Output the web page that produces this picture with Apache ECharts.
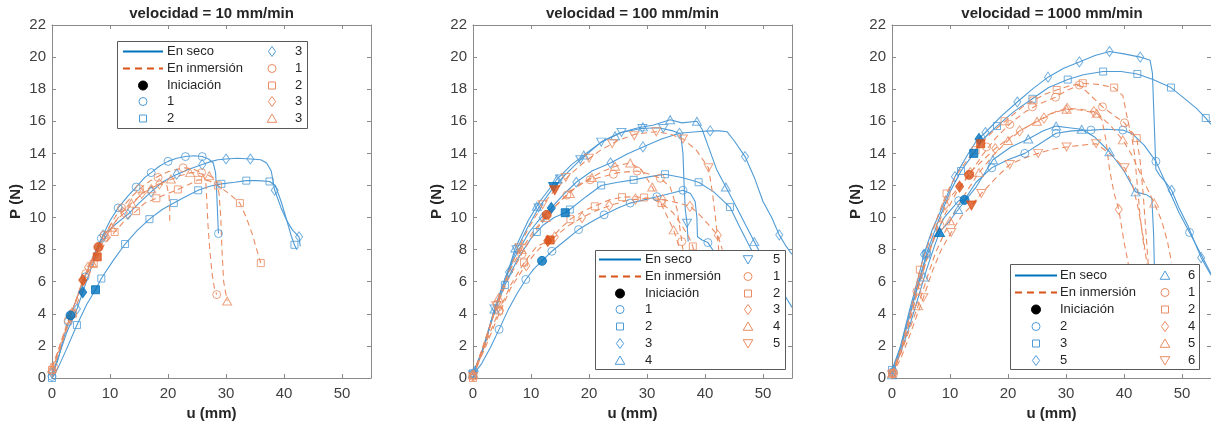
<!DOCTYPE html>
<html><head><meta charset="utf-8">
<script src="https://cdn.jsdelivr.net/npm/echarts@6/dist/echarts.min.js"></script>
<style>html,body{margin:0;padding:0;background:#fff}#c{width:1211px;height:428px}</style>
</head><body><div id="c"></div>
<script>
// ---------- tick labels / titles ----------
const xTicks = [0, 10, 20, 30, 40, 50];
const yTicks = [0, 2, 4, 6, 8, 10, 12, 14, 16, 18, 20, 22];
const titles = ['velocidad = 10 mm/min', 'velocidad = 100 mm/min', 'velocidad = 1000 mm/min'];

// ---------- velocidad = 10 mm/min ----------
const v10_dry1 = [[0,0.1],[1,1.1],[2,2.5],[3.2,3.9],[4.5,5.2],[5.7,6.3],[7,7.5],[8.5,8.7],[10,9.8],[11.4,10.6],[13,11.3],[14.5,11.9],[16,12.5],[17.1,12.8],[18.5,13.2],[20,13.5],[21.5,13.7],[23,13.8],[24.5,13.85],[25.9,13.8],[27,13.65],[27.8,13.4],[28.2,12.8],[28.4,11.5],[28.6,9.8],[28.7,9.0]];
const v10_dry1Mk = [[0,0.1],[2.8,3.5],[5.7,6.3],[8.5,8.7],[11.4,10.6],[14.5,11.9],[17.1,12.8],[20,13.5],[23,13.8],[25.9,13.8],[28.7,9.0]];
const v10_dry1Init = [3.2,3.9];
const v10_dry2 = [[0,0],[1,0.6],[2.5,1.8],[4.3,3.3],[6,4.6],[7.5,5.5],[8.5,6.2],[10.5,7.3],[12.6,8.35],[14.7,9.2],[16.8,9.9],[19,10.5],[21,10.9],[23,11.3],[25.2,11.7],[27.2,11.95],[29.2,12.1],[31.5,12.2],[33.5,12.3],[35.5,12.3],[37.5,12.25],[38.5,12.0],[39.5,11.0],[40.5,9.8],[41.3,8.8],[41.8,8.3],[42.2,8.0]];
const v10_dry2Mk = [[0,0],[4.3,3.3],[8.5,6.2],[12.6,8.35],[16.8,9.9],[21,10.9],[25.2,11.7],[29.2,12.1],[33.5,12.3],[37.5,12.25],[41.8,8.3]];
const v10_dry2Init = [7.5,5.5];
const v10_dry3 = [[0,0.3],[1,1.2],[2.5,2.8],[4.3,4.3],[5.3,5.35],[6.5,6.6],[7.7,7.8],[8.8,8.9],[11,9.6],[13.1,10.2],[15,10.9],[17.1,11.6],[19,12.2],[21,12.6],[23.5,13.0],[25.9,13.3],[27.5,13.5],[28.6,13.6],[30,13.65],[32,13.7],[34.2,13.65],[36,13.6],[37,13.4],[37.8,12.9],[38.4,11.7],[39.5,10.6],[40.5,9.8],[41.5,9.2],[42.6,8.8],[42.8,8.2]];
const v10_dry3Mk = [[0,0.3],[4.3,4.3],[8.8,8.9],[13.1,10.2],[17.1,11.6],[21.5,12.7],[25.9,13.3],[30,13.65],[34.2,13.65],[38.4,11.7],[42.6,8.8]];
const v10_dry3Init = [5.3,5.35];
const v10_wet1 = [[0,0.7],[1,1.6],[2.8,3.6],[4,4.7],[5.3,6.1],[6.5,7.0],[8,8.16],[9.5,9.2],[11,10.1],[12.5,10.8],[14,11.4],[15.5,11.9],[17,12.3],[18.5,12.6],[20,12.85],[21.5,13.0],[23,13.1],[24.5,13.0],[25.8,12.8],[26.5,12.3],[26.7,11],[26.9,9.5],[27.2,8],[27.6,6.5],[28.0,5.6],[28.4,5.2]];
const v10_wet1Mk = [[0.3,0.7],[2.8,3.6],[5.8,6.5],[9,8.9],[12,10.6],[15.1,11.8],[18.3,12.5],[22.6,13.1],[25.8,12.8],[28.4,5.2]];
const v10_wet1Init = [8,8.16];
const v10_wet2 = [[0,0.5],[1,1.4],[2.5,3.0],[4,4.3],[5.5,5.8],[7,6.9],[7.8,7.55],[9,8.3],[10.8,9.1],[12.5,9.8],[14.5,10.4],[16,10.9],[18,11.2],[20,11.5],[21.7,11.75],[23.5,12.05],[25.2,12.35],[27,12.3],[28.6,12.0],[30.5,11.5],[32.4,10.9],[33.5,10.0],[34.5,9.0],[35.3,8.0],[36,7.16]];
const v10_wet2Mk = [[0,0.5],[3.6,4.0],[7.2,7.1],[10.8,9.1],[14.5,10.4],[18,11.2],[21.7,11.75],[25.2,12.35],[28.6,12.0],[32.4,10.9],[36,7.16]];
const v10_wet2Init = [7.8,7.55];
const v10_wet3 = [[0,0.4],[1.5,2.0],[3,3.7],[4.5,5.2],[5.3,6.1],[6.5,7.1],[8,8.2],[9.3,8.8],[11,9.8],[12.5,10.3],[14,10.9],[15.5,11.5],[17,11.9],[18.5,12.1],[19.8,12.0],[20.2,11.3],[20.3,10.5],[20.3,9.8]];
const v10_wet3Mk = [[0,0.4],[3.1,3.8],[6.2,6.9],[9.3,8.8],[12.4,10.3],[15.5,11.5],[18.5,12.1]];
const v10_wet3Init = [5.3,6.1];
const v10_wet4 = [[0,0.6],[1.5,2.2],[3,3.8],[4.5,5.1],[6,6.5],[7.5,7.6],[9,8.6],[10.5,9.5],[12,10.3],[14,11.0],[16,11.6],[18,12.0],[20,12.3],[22,12.6],[24,12.8],[25.5,12.75],[27.1,12.6],[28.3,12.4],[28.8,11.5],[29.1,10],[29.3,8],[29.6,6],[30.2,4.8]];
const v10_wet4Mk = [[0,0.6],[3.4,4.1],[6.9,7.2],[10.3,9.4],[13.7,10.9],[17.1,11.8],[20.5,12.4],[23.8,12.8],[27.1,12.6],[30.2,4.8]];
const v10Labels = ['En seco','En inmersión','Iniciación','1','2','3','1','2','3','3'];

// ---------- velocidad = 100 mm/min ----------
const v100_dry1 = [[0,0.2],[1.5,0.9],[3,1.9],[4.5,3.03],[6,4.2],[7.5,5.2],[9.1,6.14],[10.5,6.8],[11.9,7.3],[13.6,7.9],[16,8.6],[18.2,9.25],[20.5,9.75],[22.6,10.17],[25,10.6],[27.1,10.9],[29.5,11.1],[31.7,11.3],[34,11.5],[36.2,11.7],[37.5,11.5],[38.3,11.0],[38.6,10],[38.7,8.8],[39.5,8.6],[40.5,8.44],[41.5,7.9],[42.3,7.3]];
const v100_dry1Mk = [[0,0.2],[4.5,3.03],[9.1,6.14],[13.6,7.9],[18.2,9.25],[22.6,10.17],[27.1,10.9],[31.7,11.3],[36.2,11.7],[40.5,8.44]];
const v100_dry1Init = [11.9,7.3];
const v100_dry2 = [[0,0.3],[1.5,1.5],[3,3.3],[4.5,4.9],[6,6.2],[8,7.6],[10,8.7],[12,9.5],[14,10.0],[15.9,10.3],[16.7,10.5],[19.5,11.3],[22.1,12.0],[25,12.2],[27.7,12.35],[30.5,12.55],[33.1,12.7],[36,12.5],[38.9,12.2],[41.5,11.6],[44.3,10.65],[46,9.4],[47.7,8.2],[49.5,7]];
const v100_dry2Mk = [[0,0.3],[5.5,5.8],[11,9.1],[16.7,10.5],[22.1,12.0],[27.7,12.35],[33.1,12.7],[38.9,12.2],[44.3,10.65]];
const v100_dry2Init = [15.9,10.3];
const v100_dry3 = [[0,0.3],[1.5,1.6],[3,3.4],[5,5.6],[7,7.4],[9.7,9.1],[11.5,9.9],[13.5,10.6],[15.5,11.4],[17.8,12.2],[20.5,12.9],[23.7,13.4],[26.5,13.95],[29.3,14.4],[32.5,14.9],[35.6,15.25],[38.5,15.35],[40.9,15.4],[42.5,15.4],[43.8,15.35],[45,14.8],[46.9,13.8],[48.5,12.5],[50,11],[51.5,10],[52.8,8.92],[54,8.2],[55,7.7]];
const v100_dry3Mk = [[0.3,0.4],[6.2,6.6],[12,10.0],[17.8,12.2],[23.7,13.4],[29.3,14.4],[35.6,15.25],[40.9,15.4],[46.9,13.8],[52.8,8.92]];
const v100_dry3Init = [13.5,10.6];
const v100_dry4 = [[0,0.3],[2,2],[3.7,4.3],[5.5,6],[7.3,8.1],[9.5,9.8],[11.5,11.0],[14.5,12.4],[17,13.3],[19.5,14.0],[22.5,14.8],[25.5,15.3],[28.5,15.6],[31,15.75],[34,16.1],[36,15.9],[38.6,16.0],[39.5,15.5],[40.5,14.5],[42,13],[43.6,11.9],[45.5,10.6],[47.5,9.2],[49.5,7.8],[51.5,6.5],[53.5,5.3],[55,4.4]];
const v100_dry4Mk = [[0,0.3],[3.7,4.3],[7.3,8.1],[11,10.7],[14.5,12.4],[19.1,13.9],[24.5,15.1],[29.3,15.65],[34,16.1],[38.6,16.0],[43.6,11.9],[48.5,8.5]];
const v100_dry5 = [[0,0.2],[2,2.1],[3.7,4.3],[5.5,6.2],[7.5,8],[9.3,9.3],[11.3,10.6],[13.9,11.9],[16,12.7],[18.5,13.6],[22.1,14.7],[25.6,15.3],[29,15.55],[32,15.6],[34.5,15.4],[35.8,15.2],[36.2,14],[36.4,12],[36.6,10.5],[36.9,9.65],[37.1,8.5]];
const v100_dry5Mk = [[0,0.2],[3.7,4.3],[7.5,8.0],[11.3,10.6],[15,12.4],[18.5,13.6],[22.1,14.7],[25.6,15.3],[29.2,15.55],[32.8,15.55],[36.9,9.65]];
const v100_dry5Init = [13.9,11.9];
const v100_wet1 = [[0,0.1],[2,2.3],[4,4.4],[6,6.1],[8.5,7.8],[10.5,9.0],[12.7,10.17],[15,11.0],[17,11.7],[18.8,12.2],[20.2,12.35],[23,12.6],[25,12.8],[28.3,12.9],[30,12.75],[32.3,12.45],[34,11.9],[35.2,10.5],[35.8,9],[36.2,8]];
const v100_wet1Mk = [[0,0.1],[4.2,4.6],[8.4,7.7],[16.2,11.4],[20.2,12.35],[24.2,12.7],[28.3,12.9],[32.3,12.45],[36,8.5]];
const v100_wet1Init = [12.7,10.17];
const v100_wet2 = [[0,0],[2,2],[4.5,4.2],[6.5,5.8],[9,7.3],[11,8.2],[13.3,8.6],[15,9.3],[16.8,9.9],[19,10.4],[21.5,10.8],[23.5,11.1],[25.7,11.27],[28,11.3],[30.5,11.2],[32.5,10.9],[34.5,10.3],[36,9.5],[37.2,8.8],[37.9,8.2],[38.3,7.6]];
const v100_wet2Mk = [[0,0],[4.5,4.2],[8.8,7.2],[16.8,9.9],[21,10.7],[25.7,11.27],[29.5,11.25],[32.5,10.9],[37.9,8.2]];
const v100_wet2Init = [13.3,8.6];
const v100_wet3 = [[0,0.2],[2,1.8],[4.5,4.0],[6.5,5.6],[9,7.0],[11,7.9],[12.9,8.55],[14.1,8.8],[16.5,9.5],[18.8,10.0],[21,10.4],[24,10.8],[27,11.1],[30,11.2],[33,11.1],[35.5,10.9],[37.4,10.7],[39,10.2],[40.5,9.6],[42.2,8.9],[43,8.0]];
const v100_wet3Mk = [[0,0.2],[4.7,4.2],[9.2,7.0],[14.1,8.8],[18.8,10.0],[23.5,10.75],[28,11.15],[32.7,11.1],[37.4,10.7],[42.2,8.9]];
const v100_wet3Init = [12.9,8.55];
const v100_wet4 = [[0,0.2],[2,2.2],[4.4,5.0],[6.5,6.8],[8.2,7.9],[10.5,9.2],[12.7,10.1],[15,11.0],[17.5,11.8],[20,12.4],[22.5,12.9],[25,13.25],[27.1,13.4],[29,13],[30.9,11.9],[32.5,10.8],[34.6,9.23],[35.5,8.2],[36,7.5]];
const v100_wet4Mk = [[0,0.2],[4.4,5.0],[8.4,8.0],[12.5,10.0],[16.7,11.5],[20.5,12.5],[24.5,13.2],[27.1,13.4],[30.9,11.9],[34.6,9.23]];
const v100_wet5 = [[0,0.1],[2,2],[4,4.5],[5.5,6],[7.5,7.8],[9.5,9.3],[12,10.8],[14.1,11.7],[16.5,12.6],[19,13.4],[22,14.2],[25,14.8],[28,15.2],[31.6,15.35],[34,15.2],[36.2,14.9],[38.5,14.2],[40.6,13.1],[41.3,11.5],[41.8,10],[42.2,8.6],[42.5,7.5]];
const v100_wet5Mk = [[0,0.1],[4,4.5],[8,8.1],[12,10.8],[16,12.5],[20,13.7],[24,14.6],[27.8,15.1],[31.6,15.35],[36.2,14.9],[40.6,13.1]];
const v100_wet5Init = [14.1,11.7];
const v100Labels = ['En seco','En inmersión','Iniciación','1','2','3','4','5','1','2','3','4','5'];

// ---------- velocidad = 1000 mm/min ----------
const v1000_dry2 = [[0,0.4],[1.5,1.8],[3,3.8],[4.5,5.8],[6,7.6],[7.5,8.9],[9,10],[11.5,11.05],[12.5,11.1],[14.5,12.2],[17.2,13.1],[20,13.6],[22.9,14.0],[25.5,14.6],[28.3,15.25],[31,15.4],[34.3,15.45],[37,15.5],[39.8,15.45],[41.5,15.2],[43.5,14.5],[45.5,13.5],[47.5,11.9],[49.5,10.3],[51.3,9.07],[53,7.9],[55,6.5]];
const v1000_dry2Mk = [[0.2,0.4],[6,7.8],[11.5,11.05],[17.2,13.1],[22.9,14.0],[28.3,15.25],[34.3,15.45],[39.8,15.45],[45.5,13.5],[51.3,9.07]];
const v1000_dry2Init = [12.5,11.1];
const v1000_dry3 = [[0,0.5],[1.5,2],[3,4],[4.5,5.9],[6,7.8],[8,9.8],[10,11.6],[11.9,12.9],[14.1,14.0],[16,15],[18.1,15.7],[21,16.6],[24.2,17.4],[27,18.1],[30.3,18.6],[33,18.9],[36.4,19.1],[39.5,19.1],[42.3,18.95],[45,18.6],[48.1,18.1],[50.5,17.4],[52.5,16.8],[54.1,16.2],[55,15.8]];
const v1000_dry3Mk = [[0,0.5],[5.9,7.7],[11.9,12.9],[18.1,15.7],[24.2,17.4],[30.3,18.6],[36.4,19.1],[42.3,18.95],[48.1,18.1],[54.1,16.2]];
const v1000_dry3Init = [14.1,14.0];
const v1000_dry5 = [[0,0.3],[1.5,2],[3,4.2],[4.5,6.2],[5.5,7.7],[7,9.3],[8.5,10.5],[10.85,12.55],[13,13.9],[14.6,14.8],[16.1,15.3],[18.8,16.3],[21.6,17.2],[24.2,18.0],[26.9,18.75],[29.6,19.3],[32.3,19.7],[35,20.1],[37.5,20.35],[40,20.2],[42.8,20.0],[44.5,19.8],[44.9,19.0],[45.2,16],[45.5,13],[46.2,12.6],[47.2,12.2],[48.2,11.7],[49.5,10.6],[51,9.5],[53.3,7.5],[55,6.4]];
const v1000_dry5Mk = [[0,0.3],[5.5,7.7],[10.85,12.55],[16.1,15.3],[21.6,17.2],[26.9,18.75],[32.3,19.7],[37.5,20.35],[42.8,20.0],[48.2,11.7],[53.3,7.5]];
const v1000_dry5Init = [15,14.9];
const v1000_dry6 = [[0,0.2],[1.5,1.6],[3,3.2],[4.5,5.0],[6,6.8],[7.3,8.2],[8.2,9.1],[9.5,9.6],[11,10.3],[12.5,11],[14.5,11.9],[17.4,13.6],[20.5,14.4],[23.5,14.9],[26,15.4],[28.3,15.7],[30.5,15.6],[32.7,15.5],[35,15.0],[37.5,14.1],[40,12.9],[42,11.6],[44,11.4],[44.8,11.2],[45.1,9],[45.3,6],[45.5,3.5]];
const v1000_dry6Mk = [[0,0.2],[5.5,6.3],[11.4,10.5],[17.4,13.6],[23.5,14.9],[28.3,15.7],[32.7,15.5],[37.5,14.1],[42,11.6]];
const v1000_dry6Init = [8.2,9.1];
const v1000_wet1 = [[0,0.1],[1.5,1.6],[3,3.5],[4.5,5.6],[6,7.4],[7.5,8.9],[9,10.1],[11,11.5],[13.3,12.66],[15.6,13.9],[18,15.0],[20.5,15.9],[23,16.6],[25.5,17.1],[28.2,17.5],[30,17.9],[32.3,18.26],[34,17.7],[36.3,16.9],[38.5,16.3],[40.1,15.9],[41.2,15.3],[41.8,14],[42.3,12],[42.8,10],[43.5,8]];
const v1000_wet1Mk = [[0.3,0.3],[4.3,5.4],[8.3,9.5],[16.3,14.4],[20.3,15.8],[24.2,16.9],[28.2,17.5],[32.3,18.26],[36.3,16.9],[40.1,15.9]];
const v1000_wet1Init = [13.3,12.66];
const v1000_wet2 = [[0,0.3],[1.5,1.8],[3,3.8],[4.8,6.75],[6.5,8.6],[8,10.2],[9.4,11.5],[11,12.6],[13,13.6],[15,14.5],[17.5,15.4],[20.5,16.3],[22.5,16.9],[24.4,17.3],[26.5,17.7],[28.4,17.95],[30.5,18.2],[32.9,18.37],[35.5,18.3],[38.3,18.1],[39.8,17.6],[40.4,16.5],[41,15.5],[42.2,14.95],[42.8,13.5],[43.3,11.5],[43.7,9.5],[44.2,7]];
const v1000_wet2Mk = [[0,0.3],[4.8,6.75],[9.4,11.5],[14.4,14.2],[19.4,16.0],[24.4,17.3],[28.4,17.95],[32.9,18.37],[38.3,18.1],[42.2,14.95]];
const v1000_wet2Init = [15.3,14.6];
const v1000_wet4 = [[0,0.2],[1.5,1.6],[3,3.4],[4.8,6.0],[6.5,8.0],[8,9.6],[9.65,11.1],[11.65,11.93],[14,13.0],[17.8,14.3],[20,14.9],[22,15.4],[24,15.8],[26.2,16.2],[28.2,16.6],[30.2,16.8],[32.5,16.75],[34.8,16.6],[36.2,16.1],[36.9,14.8],[37.5,13],[38.3,11.5],[39.1,10.5],[40,8.5],[40.8,7]];
const v1000_wet4Mk = [[0.3,0.3],[4.9,6.1],[9.2,10.8],[13.5,12.8],[17.8,14.3],[22,15.4],[26.2,16.2],[30.2,16.8],[34.8,16.6],[39.1,10.5]];
const v1000_wet4Init = [11.65,11.93];
const v1000_wet5 = [[0,0.3],[1.5,1.5],[3,3.0],[4.5,4.5],[6,6.2],[7.5,7.8],[9,9.0],[11,10.5],[13,11.7],[15,12.8],[17.5,13.9],[20,14.8],[22.5,15.5],[25,16.0],[27.5,16.5],[30.1,16.75],[32.5,16.7],[35.3,16.5],[37.5,15.8],[39.8,14.84],[41.5,13.8],[43.5,12.2],[45.2,10.9],[46.5,9.8],[47.5,8.5],[48.2,7.2]];
const v1000_wet5Mk = [[0,0.3],[4.5,4.5],[10,9.8],[15,12.8],[20,14.8],[25,16.0],[30.1,16.75],[35.3,16.5],[39.8,14.84],[45.2,10.9]];
const v1000_wet6 = [[0,0.2],[1.5,1.2],[3,2.6],[4.5,4.1],[5.4,5.0],[7,6.7],[8.5,8.0],[10.2,9.07],[12,10.1],[13.7,10.75],[15.4,11.5],[18,12.5],[20.3,13.3],[22.7,13.7],[25.2,14.0],[27.6,14.25],[30.1,14.4],[32.5,14.5],[35.2,14.6],[37.5,14.0],[40.1,13.1],[41.5,12],[42.5,10.5],[43.3,8.8],[44,7],[44.3,6.5]];
const v1000_wet6Mk = [[0,0.2],[5.4,5.0],[10.2,9.07],[15.4,11.5],[20.3,13.3],[25.2,14.0],[30.1,14.4],[35.2,14.6],[40.1,13.1]];
const v1000_wet6Init = [13.7,10.75];
const v1000Labels = ['En seco','En inmersión','Iniciación','2','3','5','6','1','2','4','5','6'];

// ---------- styling & layout (not data) ----------
const FONT = "'Liberation Sans', Arial, Helvetica, sans-serif";
const DRY = '#4f9bd6', WET = '#ea8c62', DRY_D = '#0072BD', WET_D = '#D95319';
const FRAME = '#8a8a8a', TXT = '#404040';
const SYM = {circle:'circle', square:'rect', diamond:'diamond', tri:'triangle', down:'path://M0,0L10,0L5,9Z'};
const SZ = {circle:8, square:7, diamond:[7,10], tri:[9,8], down:[9,8]};
const SZI = {circle:9, square:8, diamond:[8,11], tri:[10,9], down:[10,9]};

const panels = [
  { grid:{left:52, top:25, width:319, height:353}, title:titles[0], labels:v10Labels,
    curves:[
      {kind:'dry', shape:'circle', line:v10_dry1, mk:v10_dry1Mk, init:v10_dry1Init},
      {kind:'dry', shape:'square', line:v10_dry2, mk:v10_dry2Mk, init:v10_dry2Init},
      {kind:'dry', shape:'diamond', line:v10_dry3, mk:v10_dry3Mk, init:v10_dry3Init},
      {kind:'wet', shape:'circle', line:v10_wet1, mk:v10_wet1Mk, init:v10_wet1Init},
      {kind:'wet', shape:'square', line:v10_wet2, mk:v10_wet2Mk, init:v10_wet2Init},
      {kind:'wet', shape:'diamond', line:v10_wet3, mk:v10_wet3Mk, init:v10_wet3Init},
      {kind:'wet', shape:'tri', line:v10_wet4, mk:v10_wet4Mk}],
    leftItems:[['line','dry'],['line','wet'],['init','circle'],['dry','circle'],['dry','square']],
    rightItems:[['dry','diamond'],['wet','circle'],['wet','square'],['wet','diamond'],['wet','tri']],
    L:{x:117, y:41, w:190, h:87, lx1:123, lx2:163, tx:167, mx2:272, tx2:295, row0:51, dy:16.8}
  },
  { grid:{left:473, top:25, width:319, height:353}, title:titles[1], labels:v100Labels,
    curves:[
      {kind:'dry', shape:'circle', line:v100_dry1, mk:v100_dry1Mk, init:v100_dry1Init},
      {kind:'dry', shape:'square', line:v100_dry2, mk:v100_dry2Mk, init:v100_dry2Init},
      {kind:'dry', shape:'diamond', line:v100_dry3, mk:v100_dry3Mk, init:v100_dry3Init},
      {kind:'dry', shape:'tri', line:v100_dry4, mk:v100_dry4Mk},
      {kind:'dry', shape:'down', line:v100_dry5, mk:v100_dry5Mk, init:v100_dry5Init},
      {kind:'wet', shape:'circle', line:v100_wet1, mk:v100_wet1Mk, init:v100_wet1Init},
      {kind:'wet', shape:'square', line:v100_wet2, mk:v100_wet2Mk, init:v100_wet2Init},
      {kind:'wet', shape:'diamond', line:v100_wet3, mk:v100_wet3Mk, init:v100_wet3Init},
      {kind:'wet', shape:'tri', line:v100_wet4, mk:v100_wet4Mk},
      {kind:'wet', shape:'down', line:v100_wet5, mk:v100_wet5Mk, init:v100_wet5Init}],
    leftItems:[['line','dry'],['line','wet'],['init','circle'],['dry','circle'],['dry','square'],['dry','diamond'],['dry','tri']],
    rightItems:[['dry','down'],['wet','circle'],['wet','square'],['wet','diamond'],['wet','tri'],['wet','down']],
    L:{x:595, y:250, w:190, h:119, lx1:599, lx2:641, tx:645, mx2:748, tx2:773, row0:259, dy:16.8}
  },
  { grid:{left:892, top:25, width:320, height:353}, title:titles[2], labels:v1000Labels,
    curves:[
      {kind:'dry', shape:'circle', line:v1000_dry2, mk:v1000_dry2Mk, init:v1000_dry2Init},
      {kind:'dry', shape:'square', line:v1000_dry3, mk:v1000_dry3Mk, init:v1000_dry3Init},
      {kind:'dry', shape:'diamond', line:v1000_dry5, mk:v1000_dry5Mk, init:v1000_dry5Init},
      {kind:'dry', shape:'tri', line:v1000_dry6, mk:v1000_dry6Mk, init:v1000_dry6Init},
      {kind:'wet', shape:'circle', line:v1000_wet1, mk:v1000_wet1Mk, init:v1000_wet1Init},
      {kind:'wet', shape:'square', line:v1000_wet2, mk:v1000_wet2Mk, init:v1000_wet2Init},
      {kind:'wet', shape:'diamond', line:v1000_wet4, mk:v1000_wet4Mk, init:v1000_wet4Init},
      {kind:'wet', shape:'tri', line:v1000_wet5, mk:v1000_wet5Mk},
      {kind:'wet', shape:'down', line:v1000_wet6, mk:v1000_wet6Mk, init:v1000_wet6Init}],
    leftItems:[['line','dry'],['line','wet'],['init','circle'],['dry','circle'],['dry','square'],['dry','diamond']],
    rightItems:[['dry','tri'],['wet','circle'],['wet','square'],['wet','diamond'],['wet','tri'],['wet','down']],
    L:{x:1010, y:264, w:189, h:105, lx1:1015, lx2:1057, tx:1060, mx2:1165, tx2:1188, row0:275, dy:16.9}
  }
];

function symbolEl(shape, cx, cy, color, filled) {
  const style = {fill: filled ? color : 'none', stroke: color, lineWidth: 1};
  if (shape === 'circle') return {type:'circle', shape:{cx, cy, r: filled ? 4.5 : 4}, style};
  if (shape === 'square') return {type:'rect', shape:{x:cx-3.5, y:cy-3.5, width:7, height:7}, style};
  if (shape === 'diamond') return {type:'polygon', shape:{points:[[cx,cy-5],[cx+3.6,cy],[cx,cy+5],[cx-3.6,cy]]}, style};
  if (shape === 'tri') return {type:'polygon', shape:{points:[[cx,cy-4.5],[cx+4.8,cy+3.8],[cx-4.8,cy+3.8]]}, style};
  return {type:'polygon', shape:{points:[[cx-4.8,cy-3.8],[cx+4.8,cy-3.8],[cx,cy+4.5]]}, style};
}

function legendEls(p) {
  const L = p.L;
  const els = [{type:'rect', shape:{x:L.x+0.5, y:L.y+0.5, width:L.w, height:L.h},
    style:{fill:'#fff', stroke:'#595959', lineWidth:1}}];
  const items = p.leftItems.concat(p.rightItems);
  items.forEach((it, k) => {
    const left = k < p.leftItems.length;
    const row = left ? k : k - p.leftItems.length;
    const y = Math.round(L.row0 + row * L.dy) + 0.5;
    const mx = left ? (L.lx1 + L.lx2) / 2 : L.mx2;
    const tx = left ? L.tx : L.tx2;
    if (it[0] === 'line') {
      els.push({type:'line', shape:{x1:L.lx1, y1:y, x2:L.lx2, y2:y},
        style:{stroke: it[1] === 'dry' ? DRY_D : WET_D, lineWidth:2, lineDash: it[1] === 'dry' ? null : [7,5]}});
    } else if (it[0] === 'init') {
      els.push({type:'circle', shape:{cx:mx, cy:y, r:4.5}, style:{fill:'#000', stroke:'#000', lineWidth:1}});
    } else {
      els.push(symbolEl(it[1], mx, y, it[0] === 'dry' ? DRY : WET, false));
    }
    els.push({type:'text', x:tx, y:y, style:{text:p.labels[k], fill:'#262626', fontSize:13,
      fontFamily:FONT, align:'left', verticalAlign:'middle'}});
  });
  els.forEach(e => { e.z = 100; e.silent = true; });
  return els;
}

const grid = [], xAxis = [], yAxis = [], series = [], title = [], graphic = [];

panels.forEach((p, i) => {
  grid.push(Object.assign({containLabel:false}, p.grid));
  const base = {type:'value', gridIndex:i, splitLine:{show:false},
    axisLine:{show:true, onZero:false, lineStyle:{color:FRAME, width:1}},
    axisTick:{show:true, inside:true, length:4, lineStyle:{color:FRAME}}};
  xAxis.push(Object.assign({}, base, {position:'bottom', min:0, max:55, interval:10,
    axisTick:Object.assign({}, base.axisTick, {customValues:xTicks}),
    axisLabel:{color:TXT, fontSize:15, fontFamily:FONT, margin:8, customValues:xTicks,
      formatter:v => (v % 10 === 0 ? String(v) : '')},
    name:'u (mm)', nameLocation:'middle', nameGap:27,
    nameTextStyle:{fontWeight:'bold', fontSize:15, color:'#262626', fontFamily:FONT}}));
  xAxis.push(Object.assign({}, base, {position:'top', min:0, max:55, interval:10,
    axisTick:Object.assign({}, base.axisTick, {customValues:xTicks}),
    axisLabel:{show:false}}));
  yAxis.push(Object.assign({}, base, {position:'left', min:0, max:22, interval:2,
    axisLabel:{color:TXT, fontSize:15, fontFamily:FONT, margin:6},
    name:'P (N)', nameLocation:'middle', nameGap:29, nameRotate:90,
    nameTextStyle:{fontWeight:'bold', fontSize:15, color:'#262626', fontFamily:FONT}}));
  yAxis.push(Object.assign({}, base, {position:'right', min:0, max:22, interval:2,
    axisLabel:{show:false}}));

  title.push({text:p.title, left:p.grid.left + p.grid.width/2, top:6, textAlign:'center', padding:0,
    textStyle:{fontSize:15, fontWeight:'bold', color:'#262626', fontFamily:FONT}});

  p.curves.forEach(c => {
    const col = c.kind === 'dry' ? DRY : WET;
    const dark = c.kind === 'dry' ? DRY_D : WET_D;
    series.push({type:'line', xAxisIndex:2*i, yAxisIndex:2*i, data:c.line, showSymbol:false, symbol:'none',
      silent:true, animation:false, z:2,
      lineStyle:{color:col, width:1.1, type: c.kind === 'dry' ? 'solid' : [6,4]}});
    series.push({type:'scatter', xAxisIndex:2*i, yAxisIndex:2*i, data:c.mk, symbol:SYM[c.shape],
      symbolSize:SZ[c.shape], silent:true, animation:false, z:3,
      itemStyle:{color:'rgba(0,0,0,0)', borderColor:col, borderWidth:1}});
    if (c.init) series.push({type:'scatter', xAxisIndex:2*i, yAxisIndex:2*i, data:[c.init], symbol:SYM[c.shape],
      symbolSize:SZI[c.shape], silent:true, animation:false, z:4,
      itemStyle:{color:dark, borderColor:dark, borderWidth:1}});
  });

  legendEls(p).forEach(e => graphic.push(e));
});

const chart = echarts.init(document.getElementById('c'), null, {renderer:'canvas'});
chart.setOption({animation:false, backgroundColor:'#fff', title, grid, xAxis, yAxis, series, graphic});
</script></body></html>
